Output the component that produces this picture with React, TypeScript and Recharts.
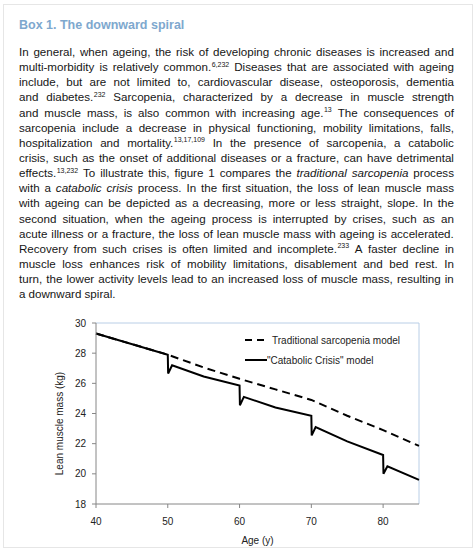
import React from 'react'
import { LineChart, Line, XAxis, YAxis, ReferenceLine, Legend, Label } from 'recharts'

// box text, one entry per printed line. *word* = italic, word^ref = superscript
const boxTitle = 'Box 1. The downward spiral'
const bodyLines = [
  'In general, when ageing, the risk of developing chronic diseases is increased and',
  'multi-morbidity is relatively common.^6,232 Diseases that are associated with ageing',
  'include, but are not limited to, cardiovascular disease, osteoporosis, dementia',
  'and diabetes.^232 Sarcopenia, characterized by a decrease in muscle strength',
  'and muscle mass, is also common with increasing age.^13 The consequences of',
  'sarcopenia include a decrease in physical functioning, mobility limitations, falls,',
  'hospitalization and mortality.^13,17,109 In the presence of sarcopenia, a catabolic',
  'crisis, such as the onset of additional diseases or a fracture, can have detrimental',
  'effects.^13,232 To illustrate this, figure 1 compares the *traditional* *sarcopenia* process',
  'with a *catabolic* *crisis* process. In the first situation, the loss of lean muscle mass',
  'with ageing can be depicted as a decreasing, more or less straight, slope. In the',
  'second situation, when the ageing process is interrupted by crises, such as an',
  'acute illness or a fracture, the loss of lean muscle mass with ageing is accelerated.',
  'Recovery from such crises is often limited and incomplete.^233 A faster decline in',
  'muscle loss enhances risk of mobility limitations, disablement and bed rest. In',
  'turn, the lower activity levels lead to an increased loss of muscle mass, resulting in',
  'a downward spiral.',
]

// chart data
const seriesNames = ['Traditional sarcopenia model', '"Catabolic Crisis" model']
const traditionalAges = [40, 50, 55, 60, 65, 70, 75, 80, 85]
const traditionalMass = [29.3, 27.9, 27.05, 26.3, 25.6, 24.9, 23.85, 22.9, 21.85]
const crisisAges = [40, 50, 50.05, 50.6, 55, 60, 60.05, 60.6, 65, 70, 70.05, 70.6, 75, 80, 80.05, 80.6, 85]
const crisisMass = [29.3, 27.9, 26.65, 27.2, 26.45, 25.85, 24.55, 25.1, 24.4, 23.85, 22.55, 23.1, 22.15, 21.25, 20.0, 20.5, 19.6]
const xTicks = [40, 50, 60, 70, 80]
const yTicks = [18, 20, 22, 24, 26, 28, 30]

const traditionalData = traditionalAges.map((age, i) => ({ age, mass: traditionalMass[i] }))
const crisisData = crisisAges.map((age, i) => ({ age, mass: crisisMass[i] }))

const chartFont = '"Liberation Sans", Arial, sans-serif'
const axisGrey = '#868686'
const frameBlue = '#b9cee6'

function Word({ text }: { text: string }) {
  let w = text
  let italic = false
  if (w.startsWith('*') && w.endsWith('*')) {
    italic = true
    w = w.slice(1, -1)
  }
  const [main, sup] = w.split('^')
  return (
    <span style={{ fontStyle: italic ? 'italic' : 'normal', whiteSpace: 'nowrap' }}>
      {main}
      {sup && (
        <sup style={{ fontSize: 7, lineHeight: 0, verticalAlign: 'baseline', position: 'relative', top: -4.5, marginLeft: 0.5 }}>
          {sup}
        </sup>
      )}
    </span>
  )
}

function BodyText() {
  return (
    <div
      style={{
        position: 'absolute',
        left: 19,
        top: 44,
        width: 435,
        fontFamily: chartFont,
        fontSize: 11.6,
        color: '#161616',
      }}
    >
      {bodyLines.map((line, i) => {
        const last = i === bodyLines.length - 1
        return (
          <div
            key={i}
            style={{
              display: 'flex',
              alignItems: 'baseline',
              justifyContent: last ? 'flex-start' : 'space-between',
              gap: last ? '0.27em' : 0,
              height: 15.15,
              lineHeight: '15.15px',
            }}
          >
            {line.split(' ').map((w, j) => (
              <Word key={j} text={w} />
            ))}
          </div>
        )
      })}
    </div>
  )
}

function LegendBox({ payload }: any) {
  const items = [...(payload || [])].sort(
    (a: any, b: any) => seriesNames.indexOf(a.value) - seriesNames.indexOf(b.value)
  )
  return (
    <div style={{ fontFamily: chartFont, fontSize: 10, color: '#222' }}>
      {items.map((entry: any, i: number) => {
        const dashed = entry.value === seriesNames[0]
        return (
          <div key={i} style={{ display: 'flex', alignItems: 'center', height: 20, whiteSpace: 'nowrap' }}>
            <svg width={22} height={4} style={{ display: 'block' }}>
              <line x1={0} y1={2} x2={22} y2={2} stroke="#000" strokeWidth={2} strokeDasharray={dashed ? '7 5' : undefined} />
            </svg>
            <span style={{ marginLeft: dashed ? 5 : 0 }}>{entry.value}</span>
          </div>
        )
      })}
    </div>
  )
}

function YTitle({ viewBox }: any) {
  const x = viewBox.x + 3.5
  const y = viewBox.y + viewBox.height / 2 + 10
  return (
    <text x={x} y={y} transform={`rotate(-90, ${x}, ${y})`} textAnchor="middle" dominantBaseline="central"
      fontFamily={chartFont} fontSize={10} fill="#222">
      Lean muscle mass (kg)
    </text>
  )
}

function XTitle({ viewBox }: any) {
  const x = viewBox.x + viewBox.width / 2
  const y = viewBox.y + viewBox.height + 6.7
  return (
    <text x={x} y={y} textAnchor="middle" dominantBaseline="central" fontFamily={chartFont} fontSize={10} fill="#222">
      Age (y)
    </text>
  )
}

export default function App() {
  const tick = { fontFamily: chartFont, fontSize: 10, fill: '#222' }
  return (
    <div style={{ position: 'absolute', left: 0, top: 0, width: 474, height: 557, background: '#fff', overflow: 'hidden' }}>
      <div style={{ position: 'absolute', left: 3, top: 4, width: 468, height: 542, border: '1px solid #e6e6e6' }} />
      <div
        style={{
          position: 'absolute',
          left: 19,
          top: 18.4,
          lineHeight: '15px',
          fontFamily: chartFont,
          fontWeight: 'bold',
          fontSize: 12.5,
          color: '#7ea8ce',
          whiteSpace: 'nowrap',
        }}
      >
        {boxTitle}
      </div>
      <BodyText />
      <div style={{ position: 'absolute', left: 0, top: 300 }}>
        <LineChart width={474} height={257} margin={{ top: 23, right: 55, left: 56, bottom: 23 }}>
          <XAxis
            type="number"
            dataKey="age"
            domain={[40, 85]}
            ticks={xTicks}
            allowDuplicatedCategory={false}
            height={30}
            stroke={axisGrey}
            tickSize={4}
            tickMargin={9.5}
            tick={tick}
          >
            <Label content={XTitle} />
          </XAxis>
          <YAxis
            type="number"
            domain={[18, 30]}
            ticks={yTicks}
            width={40}
            stroke={axisGrey}
            tickSize={4}
            tickMargin={6}
            tick={tick}
          >
            <Label content={YTitle} />
          </YAxis>
          <ReferenceLine y={30} stroke={frameBlue} strokeWidth={1} />
          <ReferenceLine x={85} stroke={frameBlue} strokeWidth={1} />
          <Line
            data={traditionalData}
            dataKey="mass"
            name={seriesNames[0]}
            stroke="#000"
            strokeWidth={2}
            strokeDasharray="8 5"
            dot={false}
            isAnimationActive={false}
            type="linear"
          />
          <Line
            data={crisisData}
            dataKey="mass"
            name={seriesNames[1]}
            stroke="#000"
            strokeWidth={2}
            dot={false}
            isAnimationActive={false}
            type="linear"
          />
          <Legend
            layout="vertical"
            align="center"
            verticalAlign="middle"
            content={LegendBox}
            wrapperStyle={{ left: 245, top: 30, width: 'auto' }}
          />
        </LineChart>
      </div>
    </div>
  )
}
